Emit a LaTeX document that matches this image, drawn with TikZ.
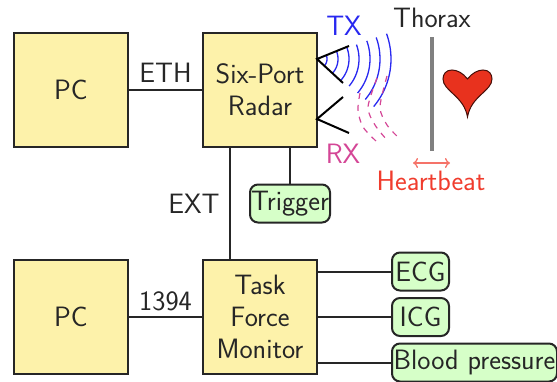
\documentclass[tikz,border=0pt]{standalone}
\usetikzlibrary{arrows.meta}
\definecolor{boxyellow}{RGB}{253,242,170}
\definecolor{boxgreen}{RGB}{214,255,200}
\definecolor{txblue}{RGB}{40,40,240}
\definecolor{rxpink}{RGB}{212,70,150}
\definecolor{hbred}{RGB}{240,60,45}
\definecolor{arrowred}{RGB}{245,115,105}
\definecolor{heartred}{RGB}{232,50,30}
\tikzset{
  every node/.style={font=\sffamily\fontsize{28}{32}\selectfont, inner sep=0pt, outer sep=0pt, text=black!85},
  yellowbox/.style={draw=black!85, fill=boxyellow, line width=2pt, minimum width=114pt, minimum height=114pt, align=center},
  greenbox/.style={draw=black!85, fill=boxgreen, line width=2pt, rounded corners=8pt, minimum height=38pt},
  wire/.style={draw=black!85, line width=2pt},
  horn/.style={draw=black, line width=2pt},
  txwave/.style={draw=txblue, line width=1.3pt},
  rxwave/.style={draw=rxpink, line width=1.2pt, dash pattern=on 6pt off 6pt}
}
\begin{document}
\begin{tikzpicture}[x=1pt,y=-1pt]
\useasboundingbox (0,0) rectangle (557,381);
\node[yellowbox] (pcA) at (71,90) {PC};
\node[yellowbox] (radar) at (260,90) {Six-Port\\Radar};
\node[yellowbox] (pcB) at (71,317) {PC};
\node[yellowbox] (monitor) at (260,317) {Task\\Force\\Monitor};
\node[greenbox, minimum width=80pt] (trigger) at (290,203.5) {Trigger};
\node[greenbox, minimum width=57pt] (ecg) at (420.5,271.5) {ECG};
\node[greenbox, minimum width=57pt] (icg) at (420.5,317) {ICG};
\node[greenbox, minimum width=165pt] (bp) at (474.5,362.5) {Blood pressure};

\draw[wire] (pcA) -- node[above=8pt] (eth) {ETH} (radar);
\draw[wire] (pcB) -- node[above=6pt] (fw) {1394} (monitor);
\coordinate (extTop) at (230,147);
\coordinate (extBot) at (230,260);
\draw[wire] (extTop) -- (extBot);
\node (ext) at (194,204) {EXT};
\draw[wire] (trigger.north) -- (trigger.north |- radar.south);
\draw[wire] (monitor.east |- ecg.west) -- (ecg.west);
\draw[wire] (monitor.east |- icg.west) -- (icg.west);
\draw[wire] (monitor.east |- bp.west) -- (bp.west);

% waves from TX
\coordinate (tx) at (317,59);
\coordinate (rx) at (317,119);
\foreach \r/\a/\b in {10/21/-42, 21/21/-42, 32/21/-42, 42/20/-40, 53/20/-40, 63/20/-40, 74/20/-40}
  \draw[txwave] plot[domain=\a:\b, samples=24, smooth] ({317+\r*cos(\x)},{59-\r*sin(\x)});

% reflected waves
\draw[rxwave] plot[smooth] coordinates {(360,93) (358,110) (363,127) (377,142)};
\draw[rxwave] plot[smooth] coordinates {(377,78) (368,107) (375,125) (387,140)};
\draw[rxwave] plot[smooth] coordinates {(387,76) (380,107) (387,125) (399,138)};

% horns
\coordinate (txU) at (349,46);
\coordinate (txD) at (343,83);
\coordinate (rxU) at (343,97);
\coordinate (rxD) at (349,133);
\draw[horn] (txU) -- (tx) -- (txD);
\draw[horn] (rxU) -- (rx) -- (rxD);

\node[text=txblue] (txl) at (344,26) {TX};
\node[text=rxpink] (rxl) at (343,154) {RX};
\node (thorax) at (432,18) {Thorax};
\node[text=hbred] (beat) at (431,181) {Heartbeat};

% thorax wall
\coordinate (wallT) at (432,37);
\coordinate (wallB) at (432,151);
\draw[draw=black!50, line width=4pt] (wallT) -- (wallB);

% movement arrow
\coordinate (arrL) at (413,163);
\coordinate (arrR) at (450,163);
\draw[draw=arrowred, line width=1.3pt, {To[length=5pt,width=10pt]}-{To[length=5pt,width=10pt]}] (arrL) -- (arrR);

% heart
\draw[fill=heartred, draw=black!70!heartred, line width=1pt]
  (467.5,79)
  .. controls (463,73) and (457,70) .. (452,70)
  .. controls (446,70) and (443,74) .. (443,79)
  .. controls (443,91) and (464,96) .. (467.5,117)
  .. controls (471,96) and (492,91) .. (492,79)
  .. controls (492,74) and (489,70) .. (483,70)
  .. controls (478,70) and (472,73) .. (467.5,79) -- cycle;
\end{tikzpicture}
\end{document}
